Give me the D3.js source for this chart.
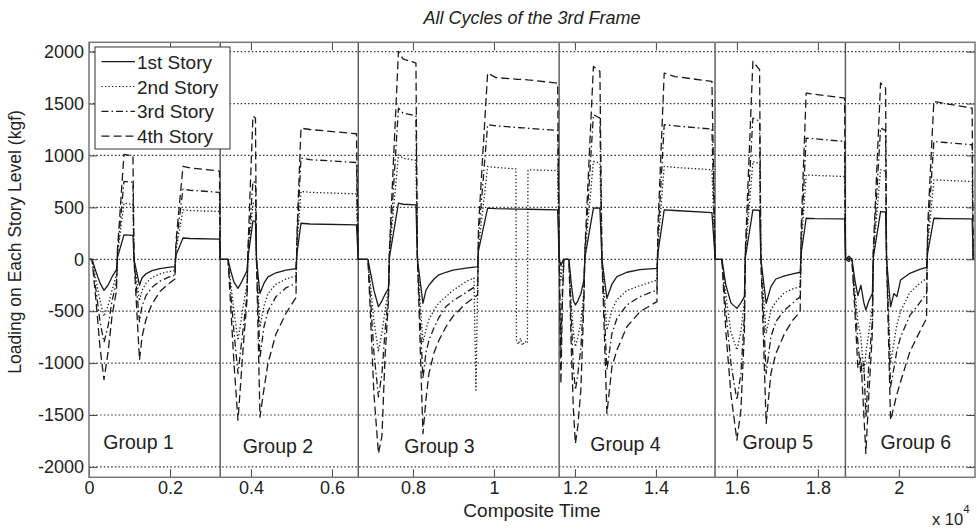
<!DOCTYPE html>
<html>
<head>
<meta charset="utf-8">
<script src="https://cdn.jsdelivr.net/npm/d3@7/dist/d3.min.js"></script>
<style>
  body { margin: 0; background: #fff; }
  svg { display: block; }
  text { font-family: "Liberation Sans", Arial, Helvetica, sans-serif; fill: #222; }
</style>
</head>
<body>
<svg id="chart" width="977" height="530"></svg>
<script>
// Composite time (x 10^4) shared by all four story records, six loading groups in sequence
const compositeTime = [
  0.0000, 0.0074, 0.0173, 0.0272, 0.0370, 0.0469, 0.0568, 0.0679, 0.0704, 0.0864, 0.1086, 0.1111,
  0.1247, 0.1309, 0.1407, 0.1556, 0.1753, 0.1951, 0.2123, 0.2148, 0.2321, 0.2494, 0.3222, 0.3242,
  0.3432, 0.3506, 0.3580, 0.3679, 0.3753, 0.3827, 0.3901, 0.3926, 0.4049, 0.4111, 0.4136,
  0.4222, 0.4321, 0.4420, 0.4617, 0.4864, 0.5111, 0.5136, 0.5235, 0.5457, 0.6605, 0.6649,
  0.6889, 0.6963, 0.7037, 0.7148, 0.7235, 0.7309, 0.7395, 0.7420, 0.7642, 0.7753, 0.8074, 0.8111,
  0.8247, 0.8321, 0.8395, 0.8519, 0.8642, 0.8815, 0.8988, 0.9309, 0.9506, 0.9556, 0.9598, 0.9617,
  0.9844, 1.0049, 1.0543, 1.0556, 1.0605, 1.0654, 1.0704, 1.0765, 1.0827, 1.0840, 1.1573, 1.1612,
  1.1654, 1.1691, 1.1728, 1.1852, 1.1914, 1.1963, 1.2012, 1.2074, 1.2148, 1.2222, 1.2247,
  1.2457, 1.2543, 1.2617, 1.2667, 1.2790, 1.2914, 1.3037, 1.3284, 1.3605, 1.4025, 1.4049,
  1.4205, 1.4469, 1.5383, 1.5464,
  1.5630, 1.5728, 1.5852, 1.6000, 1.6099, 1.6185, 1.6210, 1.6395, 1.6560, 1.6593,
  1.6723, 1.6840, 1.6963, 1.7178, 1.7383, 1.7563, 1.7588, 1.7711, 1.7926, 1.8659, 1.8684,
  1.8765, 1.8840, 1.8914, 1.8988, 1.9062, 1.9136, 1.9185, 1.9259, 1.9346, 1.9370, 1.9548, 1.9672, 1.9696,
  1.9795, 1.9877, 1.9951, 2.0042, 2.0272, 2.0494, 2.0684, 2.0709, 2.0864, 2.1136, 2.1810, 2.1835, 2.1877
];

// Story loads (kgf) at each composite time
const story1 = [
  0, 0, -120, -230, -300, -250, -170, -100, 20, 235, 230, 0,
  -250, -180, -140, -110, -90, -78, -70, 40, 205, 200, 195, 0,
  0, -120, -220, -280, -230, -170, -110, 20, 370, 365, 0,
  -330, -230, -170, -130, -105, -90, 60, 347, 340, 331, 0,
  0, -150, -300, -457, -400, -340, -280, 20, 540, 530, 524, 0,
  -424, -300, -250, -190, -150, -125, -105, -85, -75, -73, -70, 80,
  492, 488, 484, 484, 484, 484, 483, 483, 482, 482, 476, 0,
  -60, -20, 0, 0, -250, -400, -440, -400, -330, -200, 20,
  492, 495, 492, 0, -376, -240, -167, -125, -100, -87, 60,
  476, 470, 450, 0,
  0, -250, -420, -473, -420, -360, 20, 476, 470, 0,
  -424, -264, -190, -160, -140, -125, 60, 395, 392, 389, 0,
  10, 0, -200, -350, -250, -420, -489, -400, -330, 20, 460, 455, 0,
  -457, -330, -360, -200, -135, -100, -77, 60, 395, 392, 389, 0, 0
];
const story2 = [
  0, 0, -200, -400, -550, -450, -300, -150, 50, 540, 530, 0,
  -400, -300, -230, -175, -140, -120, -110, 90, 475, 470, 460, 0,
  0, -250, -500, -780, -600, -400, -250, 50, 540, 530, 0,
  -650, -450, -330, -240, -190, -160, 130, 653, 645, 630, 0,
  0, -300, -600, -890, -700, -500, -300, 50, 1006, 975, 952, 0,
  -800, -680, -580, -490, -420, -360, -300, -215, -180, -1260, -250, 100,
  894, 885, 870, -780, -820, -760, -830, -790, -810, 862, 855, 0,
  -200, -50, 0, 0, -450, -700, -842, -750, -600, -300, 50,
  942, 935, 926, 0, -680, -489, -390, -300, -255, -200, 130,
  894, 885, 862, 0,
  0, -350, -700, -874, -700, -400, 50, 942, 920, 0,
  -714, -489, -410, -320, -285, -264, 130, 813, 808, 797, 0,
  0, 0, -300, -600, -750, -1100, -900, -700, -450, 50, 862, 850, 0,
  -1003, -800, -630, -500, -320, -240, -183, 130, 765, 760, 749, 0, 0
];
const story3 = [
  0, 0, -300, -600, -800, -650, -400, -220, 70, 750, 740, 0,
  -600, -450, -350, -270, -210, -175, -150, 130, 675, 665, 645, 0,
  0, -350, -700, -1100, -850, -600, -350, 70, 750, 740, 0,
  -950, -650, -500, -360, -275, -230, 190, 974, 960, 932, 0,
  0, -450, -900, -1325, -1100, -700, -350, 70, 1456, 1408, 1382, 0,
  -1150, -900, -780, -660, -560, -455, -400, -320, -270, -262, -255, 200,
  1296, 1285, 1270, 1270, 1268, 1267, 1266, 1265, 1263, 1262, 1241, 0,
  -900, -300, 0, 0, -600, -1050, -1260, -1100, -850, -350, 70,
  1392, 1375, 1360, 0, -1067, -714, -570, -440, -360, -296, 200,
  1296, 1285, 1254, 0,
  0, -500, -1000, -1357, -1100, -550, 70, 1360, 1330, 0,
  -1100, -746, -600, -490, -420, -360, 200, 1167, 1160, 1135, 0,
  -20, 0, -400, -800, -1100, -1000, -1520, -1000, -600, 70, 1264, 1240, 0,
  -1228, -1050, -880, -750, -540, -430, -328, 200, 1135, 1125, 1103, 0, 0
];
const story4 = [
  0, 0, -400, -850, -1160, -900, -550, -300, 100, 1010, 995, 0,
  -970, -750, -580, -430, -310, -240, -190, 170, 895, 880, 850, 0,
  0, -500, -1000, -1550, -1150, -750, -400, 100, 1380, 1360, 0,
  -1520, -1250, -1000, -720, -520, -370, 250, 1263, 1250, 1209, 0,
  0, -650, -1300, -1870, -1700, -950, -400, 100, 2003, 1930, 1890, 0,
  -1680, -1350, -1100, -900, -780, -650, -550, -425, -370, -355, -345, 300,
  1794, 1750, 1735, 1734, 1733, 1732, 1731, 1730, 1729, 1728, 1697, 0,
  -1200, -400, 0, 0, -900, -1450, -1775, -1600, -1250, -400, 100,
  1858, 1830, 1810, 0, -1485, -1035, -875, -650, -505, -408, 300,
  1794, 1760, 1714, 0,
  0, -700, -1300, -1742, -1450, -700, 100, 1906, 1826, 0,
  -1582, -1100, -907, -714, -585, -505, 300, 1601, 1590, 1553, 0,
  30, 0, -500, -1050, -950, -1500, -1870, -1300, -700, 100, 1698, 1650, 0,
  -1550, -1420, -1300, -1180, -890, -714, -569, 300, 1521, 1500, 1456, 0, 0
];

const storyNames = ["1st Story", "2nd Story", "3rd Story", "4th Story"];

// Group boundaries (composite time) and group labels
const groupBounds = [0.324, 0.665, 1.161, 1.546, 1.868];
const groupNames = ["Group 1", "Group 2", "Group 3", "Group 4", "Group 5", "Group 6"];
const groupLabelTime = [0.0353, 0.3795, 0.7785, 1.2378, 1.614, 1.9548];
const groupLabelLoad = [-1827, -1866, -1866, -1846, -1827, -1827];

const xTicks = [0, 0.2, 0.4, 0.6, 0.8, 1, 1.2, 1.4, 1.6, 1.8, 2];
const xTickLabels = ["0", "0.2", "0.4", "0.6", "0.8", "1", "1.2", "1.4", "1.6", "1.8", "2"];
const yTicks = [-2000, -1500, -1000, -500, 0, 500, 1000, 1500, 2000];
const yTickLabels = ["-2000", "-1500", "-1000", "-500", "0", "500", "1000", "1500", "2000"];

// ---- layout & scales ----
const svg = d3.select("#chart");
const box = { left: 89, right: 975, top: 42.3, bottom: 477.3 };
const x = d3.scaleLinear().domain([0, 2.188]).range([box.left, box.right]);
const y = d3.scaleLinear().domain([-2100, 2090]).range([box.bottom, box.top]);

const ink = "#1a1a1a";
const styles = [
  { dash: null },
  { dash: "1.3,2.2" },
  { dash: "7,3,1.5,3" },
  { dash: "8,4" }
];

svg.append("defs").append("clipPath").attr("id", "plotClip")
  .append("rect")
  .attr("x", box.left).attr("y", box.top)
  .attr("width", box.right - box.left).attr("height", box.bottom - box.top);

// horizontal dotted grid
svg.append("g").selectAll("line").data(yTicks).join("line")
  .attr("x1", box.left).attr("x2", box.right)
  .attr("y1", d => y(d)).attr("y2", d => y(d))
  .attr("stroke", "#333").attr("stroke-width", 1.2)
  .attr("stroke-dasharray", "1.5,2.2");

// group separators
svg.append("g").selectAll("line").data(groupBounds).join("line")
  .attr("x1", d => x(d)).attr("x2", d => x(d))
  .attr("y1", box.top).attr("y2", box.bottom)
  .attr("stroke", "#555").attr("stroke-width", 1.4);

// story series
const records = [story1, story2, story3, story4];
const line = d3.line().x(d => x(d[0])).y(d => y(d[1]));
const plotG = svg.append("g").attr("clip-path", "url(#plotClip)");
records.forEach((vals, i) => {
  const pts = compositeTime.map((t, k) => [t, vals[k]]);
  plotG.append("path")
    .attr("d", line(pts))
    .attr("fill", "none")
    .attr("stroke", ink)
    .attr("stroke-width", 1.3)
    .attr("stroke-linejoin", "round")
    .attr("stroke-dasharray", styles[i].dash);
});

// group labels
svg.append("g").selectAll("text").data(groupNames).join("text")
  .attr("x", (d, i) => x(groupLabelTime[i]))
  .attr("y", (d, i) => y(groupLabelLoad[i]))
  .attr("font-size", 19.5)
  .text(d => d);

// axes: ticks pointing inward, labels outside
function styleAxis(g) {
  g.select(".domain").remove();
  g.selectAll(".tick line").attr("stroke", "#444").attr("stroke-width", 1);
  g.selectAll(".tick text").attr("fill", "#222").attr("font-size", 18)
    .attr("font-family", "Liberation Sans, Arial, sans-serif");
}
svg.append("g").attr("transform", `translate(0,${box.bottom})`)
  .call(d3.axisBottom(x).tickValues(xTicks).tickSizeInner(-8).tickSizeOuter(0).tickPadding(4)
    .tickFormat((d, i) => xTickLabels[i]))
  .call(styleAxis);
svg.append("g").attr("transform", `translate(0,${box.top})`)
  .call(d3.axisTop(x).tickValues(xTicks).tickSizeInner(-8).tickSizeOuter(0).tickFormat(""))
  .call(styleAxis);
svg.append("g").attr("transform", `translate(${box.left},0)`)
  .call(d3.axisLeft(y).tickValues(yTicks).tickSizeInner(-8).tickSizeOuter(0).tickPadding(5)
    .tickFormat((d, i) => yTickLabels[i]))
  .call(styleAxis);
svg.append("g").attr("transform", `translate(${box.right},0)`)
  .call(d3.axisRight(y).tickValues(yTicks).tickSizeInner(-8).tickSizeOuter(0).tickFormat(""))
  .call(styleAxis);

// axes box
svg.append("rect")
  .attr("x", box.left).attr("y", box.top)
  .attr("width", box.right - box.left).attr("height", box.bottom - box.top)
  .attr("fill", "none").attr("stroke", "#777").attr("stroke-width", 1.5);

// legend
const lg = svg.append("g");
lg.append("rect").attr("x", 95).attr("y", 47).attr("width", 135).attr("height", 102)
  .attr("fill", "#fff").attr("stroke", "#333").attr("stroke-width", 1);
storyNames.forEach((name, i) => {
  const ly = 61.7 + i * 24.8;
  lg.append("line").attr("x1", 101.5).attr("x2", 135).attr("y1", ly).attr("y2", ly)
    .attr("stroke", ink).attr("stroke-width", 1.2)
    .attr("stroke-dasharray", styles[i].dash);
  lg.append("text").attr("x", 137).attr("y", ly + 7).attr("font-size", 19).text(name);
});

// titles
svg.append("text").attr("x", (box.left + box.right) / 2).attr("y", 24)
  .attr("text-anchor", "middle").attr("font-size", 18).attr("font-style", "italic")
  .text("All Cycles of the 3rd Frame");
svg.append("text").attr("x", (box.left + box.right) / 2).attr("y", 517)
  .attr("text-anchor", "middle").attr("font-size", 19)
  .text("Composite Time");
svg.append("text").attr("transform", "translate(21,242) rotate(-90)")
  .attr("text-anchor", "middle").attr("font-size", 17.5)
  .text("Loading on Each Story Level (kgf)");
const ex = svg.append("text").attr("x", 932).attr("y", 525).attr("font-size", 16.5);
ex.append("tspan").text("x 10");
ex.append("tspan").attr("font-size", 11.5).attr("dy", -12).text("4");
</script>
</body>
</html>
